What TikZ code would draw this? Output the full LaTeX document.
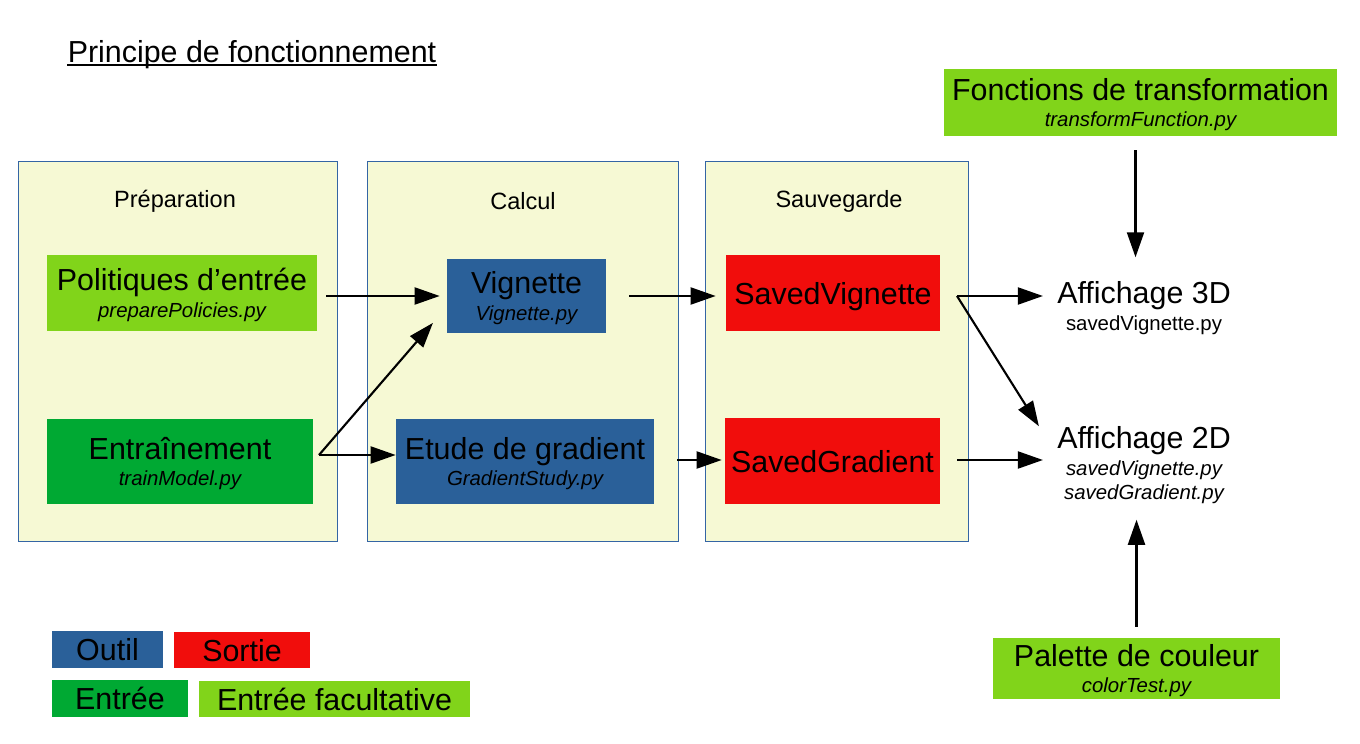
\documentclass[tikz,border=0pt]{standalone}
\usepackage{fontspec}
\setmainfont{Liberation Sans}
\usepackage{tikz}
\usetikzlibrary{calc, arrows.meta, positioning}
\usepackage{xcolor}
\definecolor{paneyellow}{RGB}{246,249,212}
\definecolor{paneborder}{RGB}{52,101,164}
\definecolor{toolblue}{RGB}{42,96,153}
\definecolor{outputred}{RGB}{241,13,12}
\definecolor{inputgreen}{RGB}{0,169,51}
\definecolor{optgreen}{RGB}{129,212,26}
\newcommand{\bigfs}{\fontsize{17.3pt}{15.2pt}\selectfont}
\newcommand{\subfs}{\fontsize{11.6pt}{13.5pt}\selectfont}
\newcommand{\headfs}{\fontsize{13.4pt}{16pt}\selectfont}

\begin{document}
\begin{tikzpicture}[
	pane/.style={draw=paneborder, line width=0.5pt, fill=paneyellow, minimum height=7.6cm},
	stage/.style={font=\headfs},
	fbox/.style={align=center, inner sep=0pt, text depth=0pt, font=\bigfs},
	flow/.style={-{Triangle[length=0.5cm, width=0.34cm]}, line width=1.2pt},
	]
	\useasboundingbox (0,0) rectangle (27.2,14.86);
	% title
	\node[fbox] (title) at (5.04,13.84) {Principe de fonctionnement};
	\draw[line width=1pt] ([yshift=-0.06cm]title.base west) -- ([yshift=-0.06cm]title.base east);
	% panes
	\node[pane, minimum width=6.38cm] (prep) at (3.55,7.84) {};
	\node[pane, minimum width=6.22cm] (calcul) at (10.45,7.84) {};
	\node[pane, minimum width=5.26cm] (save) at (16.73,7.84) {};
	\node[stage] (prept) at (3.5,10.84) {Préparation};
	\node[stage] (calcult) at (10.46,10.84) {Calcul};
	\node[stage] (savet) at (16.78,10.84) {Sauvegarde};
	% boxes
	\node[fbox, fill=optgreen, minimum width=5.4cm, minimum height=1.52cm] (pol) at (3.64,9.0) {Politiques d’entrée\\{\subfs\itshape preparePolicies.py}};
	\node[fbox, fill=inputgreen, minimum width=5.32cm, minimum height=1.7cm] (train) at (3.6,5.63) {Entraînement\\{\subfs\itshape trainModel.py}};
	\node[fbox, fill=toolblue, minimum width=3.18cm, minimum height=1.48cm] (vign) at (10.53,8.94) {Vignette\\{\subfs\itshape Vignette.py}};
	\node[fbox, fill=toolblue, minimum width=5.16cm, minimum height=1.7cm] (grad) at (10.5,5.63) {Etude de gradient\\{\subfs\itshape GradientStudy.py}};
	\node[fbox, fill=outputred, minimum width=4.28cm, minimum height=1.52cm] (svign) at (16.66,9.0) {SavedVignette};
	\node[fbox, fill=outputred, minimum width=4.3cm, minimum height=1.72cm] (sgrad) at (16.65,5.64) {SavedGradient};
	\node[fbox, fill=optgreen, minimum width=7.86cm, minimum height=1.34cm] (fonc) at (22.81,12.81) {Fonctions de transformation\\{\subfs\itshape transformFunction.py}};
	\node[fbox, fill=optgreen, minimum width=5.74cm, minimum height=1.22cm] (pal) at (22.73,1.49) {Palette de couleur\\{\subfs\itshape colorTest.py}};
	\node[fbox] (aff3) at (22.88,8.74) {Affichage 3D\\{\subfs savedVignette.py}};
	\node[fbox] (aff2) at (22.88,5.6) {Affichage 2D\\{\subfs\itshape savedVignette.py}\\[-1.5pt]{\subfs\itshape savedGradient.py}};
	% legend
	\node[fbox, fill=toolblue, minimum width=2.22cm, minimum height=0.74cm] (kout) at (2.15,1.87) {Outil};
	\node[fbox, fill=outputred, minimum width=2.72cm, minimum height=0.72cm] (ksort) at (4.84,1.86) {Sortie};
	\node[fbox, fill=inputgreen, minimum width=2.72cm, minimum height=0.74cm] (kin) at (2.4,0.89) {Entrée};
	\node[fbox, fill=optgreen, minimum width=5.42cm, minimum height=0.72cm] (kopt) at (6.69,0.88) {Entrée facultative};
	% arrows
	\coordinate (split) at (6.38,5.76);
	\coordinate (svout) at (19.14,8.94);
	\coordinate (sgout) at (19.14,5.66);
	\draw[flow, shorten <=0.18cm, shorten >=0.14cm] (pol.east |- vign.west) -- (vign.west);
	\draw[flow, shorten >=0.42cm] (split) -- ([yshift=-0.22cm]vign.west);
	\draw[flow] (split) -- (split -| grad.west);
	\draw[flow, shorten <=0.46cm, shorten >=0.2cm] (vign.east) -- (vign.east -| svign.west);
	\draw[flow, shorten <=0.46cm, shorten >=0.06cm] (grad.east |- sgout) -- (sgout -| sgrad.west);
	\draw[flow, shorten >=0.28cm] (svout) -- (svout -| aff3.west);
	\draw[flow] (svout) -- ([xshift=-0.36cm]aff2.north west);
	\draw[flow, shorten >=0.28cm] (sgout) -- (sgout -| aff2.west);
	\draw[flow, shorten <=0.28cm, shorten >=0.48cm] ([xshift=-0.1cm]fonc.south) -- ([xshift=-0.1cm]fonc.south |- aff3.north);
	\draw[flow, shorten <=0.22cm, shorten >=0.4cm] (pal.north) -- (pal.north |- aff2.south);
\end{tikzpicture}
\end{document}
